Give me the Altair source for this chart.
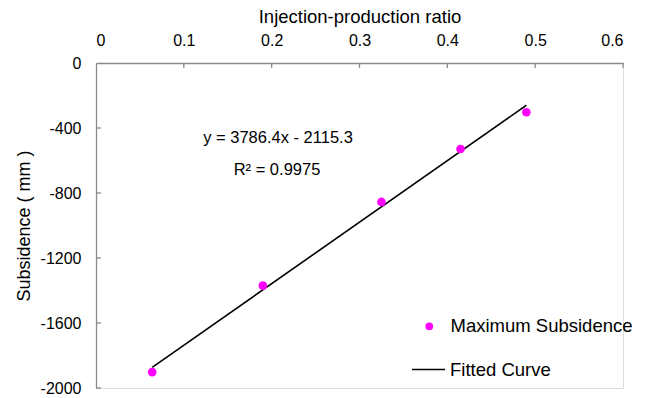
import altair as alt
import pandas as pd

# ---- data ----
ratio = [0.064, 0.19, 0.325, 0.415, 0.49]
subsidence = [-1902, -1370, -855, -529, -303]
fit_ratio = [0.064, 0.49]
fit_subsidence = [-1873, -260]
x_tick_values = [0, 0.1, 0.2, 0.3, 0.4, 0.5, 0.6]
y_tick_values = [-2000, -1600, -1200, -800, -400, 0]
x_inner_ticks = [0.1, 0.2, 0.3, 0.4, 0.5, 0.6]
y_inner_ticks = [-2000, -1600, -1200, -800, -400]
equation_lines = ["y = 3786.4x - 2115.3", "R² = 0.9975"]

FONT = "Liberation Sans"
GRAY = "#8a8a8a"

pts = pd.DataFrame({"ratio": ratio, "subsidence": subsidence,
                    "series": ["Maximum Subsidence"] * len(ratio)})
fit = pd.DataFrame({"ratio": fit_ratio, "subsidence": fit_subsidence,
                    "series": ["Fitted Curve"] * len(fit_ratio)})
xt = pd.DataFrame({"ratio": x_inner_ticks})
yt = pd.DataFrame({"subsidence": y_inner_ticks})

xscale = alt.Scale(domain=[0, 0.6], nice=False, zero=False)
yscale = alt.Scale(domain=[-2000, 0], nice=False)

xaxis = alt.Axis(orient="top", values=x_tick_values, format="~g",
                 title="Injection-production ratio", ticks=False, grid=False,
                 domainColor=GRAY, domainWidth=1.3,
                 labelPadding=15, titlePadding=6,
                 labelFontSize=16, titleFontSize=18.5,
                 labelFont=FONT, titleFont=FONT,
                 labelColor="black", titleColor="black", titleFontWeight="normal")
yaxis = alt.Axis(orient="left", values=y_tick_values, labelExpr="'' + datum.value",
                 title="Subsidence ( mm )", ticks=False, grid=False,
                 domainColor=GRAY, domainWidth=1.3,
                 labelPadding=15, titlePadding=7,
                 labelFontSize=16, titleFontSize=18,
                 labelFont=FONT, titleFont=FONT,
                 labelColor="black", titleColor="black", titleFontWeight="normal")

X = alt.X("ratio:Q", scale=xscale, axis=xaxis)
Y = alt.Y("subsidence:Q", scale=yscale, axis=yaxis)

line = alt.Chart(fit).mark_line(strokeWidth=1.6).encode(
    x=X, y=Y,
    stroke=alt.Stroke("series:N",
                      scale=alt.Scale(domain=["Fitted Curve"], range=["black"]),
                      legend=alt.Legend(orient="none", legendX=315, legendY=289,
                                        title=None, symbolType="stroke",
                                        symbolSize=1089, symbolStrokeWidth=1.6,
                                        symbolStrokeColor="black",
                                        labelFont=FONT, labelFontSize=18.5,
                                        labelColor="black", labelOffset=4,
                                        labelLimit=0, padding=0)),
)

points = alt.Chart(pts).mark_circle(size=75, opacity=1).encode(
    x=X, y=Y,
    fill=alt.Fill("series:N",
                  scale=alt.Scale(domain=["Maximum Subsidence"], range=["#ff00ff"]),
                  legend=alt.Legend(orient="none", legendX=324, legendY=254,
                                    title=None, symbolType="circle",
                                    symbolSize=60, symbolStrokeWidth=0,
                                    symbolOpacity=1,
                                    labelFont=FONT, labelFontSize=18.5,
                                    labelColor="black", labelOffset=12,
                                    labelLimit=0, padding=0)),
)

xticks = alt.Chart(xt).mark_rule(color=GRAY, strokeWidth=1.3).encode(
    x=alt.X("ratio:Q", scale=xscale), y=alt.value(0), y2=alt.value(5))
yticks = alt.Chart(yt).mark_rule(color=GRAY, strokeWidth=1.3).encode(
    y=alt.Y("subsidence:Q", scale=yscale), x=alt.value(0), x2=alt.value(5))

eq_df = pd.DataFrame({"text": [equation_lines[0]]})
r2_df = pd.DataFrame({"text": [equation_lines[1]]})
eq = alt.Chart(eq_df).mark_text(font=FONT, fontSize=16.5, color="black",
                                align="center", baseline="middle").encode(
    text="text:N", x=alt.value(182), y=alt.value(75))
r2 = alt.Chart(r2_df).mark_text(font=FONT, fontSize=16.5, color="black",
                                align="center", baseline="middle").encode(
    text="text:N", x=alt.value(181), y=alt.value(107))

chart = alt.layer(xticks, yticks, line, points, eq, r2).resolve_scale(
    fill="independent", stroke="independent"
).properties(
    width=527, height=325,
    autosize=alt.AutoSizeParams(type="none"),
    padding={"left": 96, "top": 63, "right": 23, "bottom": 10},
).configure_view(stroke=None).configure(background="white")

chart.save("out.html", embed_options={"renderer": "svg", "actions": False})
